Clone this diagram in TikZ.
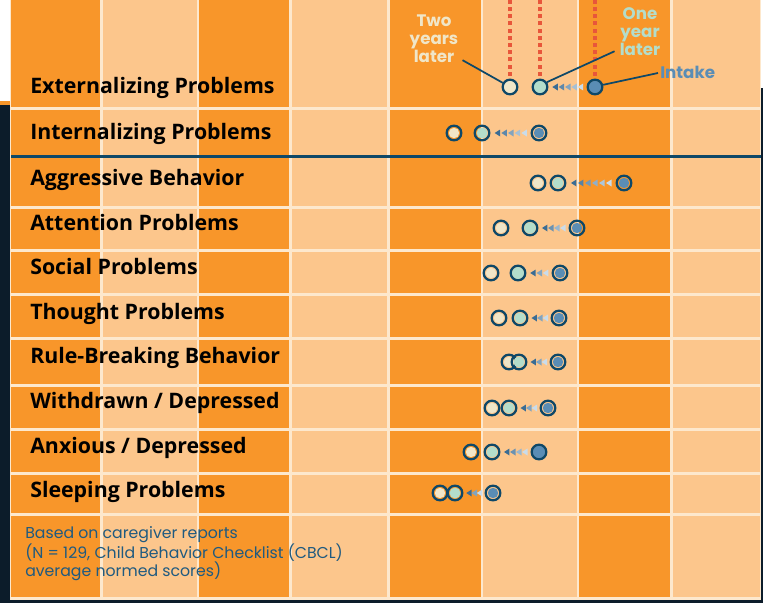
\documentclass[tikz,border=0pt]{standalone}
\usepackage{fontspec}
\setmainfont{Open Sans}
\newfontfamily\gothic{Poppins}
\usetikzlibrary{calc}
\definecolor{dkor}{HTML}{F8962A}
\definecolor{ltor}{HTML}{FCC68C}
\definecolor{sepc}{HTML}{FDE8CD}
\definecolor{navy}{HTML}{0E4868}
\definecolor{bgdark}{HTML}{0C1C2A}
\definecolor{twoc}{HTML}{F0E6C8}
\definecolor{onec}{HTML}{B3DDCB}
\definecolor{intc}{HTML}{5A8DB5}
\definecolor{redd}{HTML}{E8563A}
\definecolor{footc}{HTML}{1F5A80}
\definecolor{trid}{HTML}{3A6C94}
\definecolor{tril}{HTML}{CADCEA}
\begin{document}
\begin{tikzpicture}[x=0.75pt,y=-0.75pt,
  dot/.style n args={2}{circle, draw=navy, line width=1.7pt, minimum size=11pt, inner sep=0pt,
    path picture={\fill[#1] (path picture bounding box.center) circle (#2);}},
  rowlbl/.style={anchor=base west, inner sep=0pt, font=\bfseries\fontsize{16}{18}\selectfont, text=black},
  keylbl/.style={inner sep=0pt, align=center, font=\gothic\bfseries\fontsize{12.5}{13.5}\selectfont},
  leader/.style={draw=navy, line width=1.3pt},
  reddots/.style={draw=redd, line width=2.3pt, dash pattern=on 3pt off 2.4pt},
  sepline/.style={fill=sepc},
]
\useasboundingbox (0,0) rectangle (763,603);
% background
\fill[bgdark] (0,0) rectangle (763,603);
\fill[white] (0,0) rectangle (11,101);
\fill[dkor] (0,101) rectangle (11,105);
\fill[white] (761,0) rectangle (763,88);
% chart
\fill[sepc] (10,0) rectangle (761,600);
\foreach \l/\r in {11/100,199/289,390/481,579/670}
  \fill[dkor] (\l,0) rectangle (\r,597);
\foreach \l/\r in {103/197,292/387,483/577,673/760}
  \fill[ltor] (\l,0) rectangle (\r,597);
\foreach \y in {108,207,250,294,338,385,429,473,514}
  \fill[sepline] (11,\y-1.5) rectangle (761,\y+1.5);
\fill[navy] (11,154.5) rectangle (761,157.5);
\coordinate (top) at (0,0);
% row labels
\node[rowlbl] (l1) at (30,93) {Externalizing Problems};
\node[rowlbl] (l2) at (30,139) {Internalizing Problems};
\node[rowlbl] (l3) at (30,185) {Aggressive Behavior};
\node[rowlbl] (l4) at (30,230) {Attention Problems};
\node[rowlbl] (l5) at (30,274) {Social Problems};
\node[rowlbl] (l6) at (30,319) {Thought Problems};
\node[rowlbl] (l7) at (30,363) {Rule-Breaking Behavior};
\node[rowlbl] (l8) at (30,408) {Withdrawn / Depressed};
\node[rowlbl] (l9) at (30,453) {Anxious / Depressed};
\node[rowlbl] (l10) at (30,497) {Sleeping Problems};
% dots and arrows
\foreach \i/\y/\a/\b/\c/\n/\ra/\rb/\rc in {
  1/87/510/540/595/5/4.7pt/4.7pt/4.7pt,
  2/133/454/482/539/5/3.9pt/4.1pt/3.9pt,
  3/183/538/558/624/6/3.9pt/4.1pt/3.9pt,
  4/228/501/530/577/4/3.9pt/4.3pt/3.9pt,
  5/273/491/518/560/3/3.9pt/4.5pt/3.9pt,
  6/318/499/520/559/3/3.9pt/4.1pt/3.9pt,
  7/362/509/519/558/3/3.9pt/4.1pt/3.9pt,
  8/408/492/509/548/3/3.9pt/4.1pt/3.9pt,
  9/452/471/492/539/4/3.9pt/4.1pt/4.7pt,
  10/493/440/455/493/3/3.9pt/4.1pt/3.9pt}{
  \node[dot={twoc}{\ra}] (r\i a) at (\a,\y) {};
  \node[dot={onec}{\rb}] (r\i b) at (\b,\y) {};
  \node[dot={intc}{\rc}] (r\i c) at (\c,\y) {};
  \foreach \k in {1,...,\n}{
    \pgfmathsetmacro\t{\k/(\n+1)}
    \pgfmathtruncatemacro\p{100-100*(\k-1)/(\n-1)}
    \fill[trid!\p!tril] ($(r\i b.east)!\t!(r\i c.west)$) ++(-2.5,0) -- ++(5.5,-3.5) -- ++(0,7) -- cycle;
  }
}
% dotted verticals
\draw[reddots, shorten <=2pt] (r1a.north) -- (r1a |- top);
\draw[reddots, shorten <=2pt] (r1b.north) -- (r1b |- top);
\draw[reddots, shorten <=2pt] (r1c.north) -- (r1c |- top);
% key labels
\node[keylbl, text=twoc] (twolbl) at (434,39) {Two\\years\\later};
\node[keylbl, text=onec] (onelbl) at (640,32) {One\\year\\later};
\node[keylbl, text=intc, anchor=west] (intlbl) at (660,72) {Intake};
\draw[leader] ($(twolbl.south east)+(4,-3)$) -- (r1a.150);
\draw[leader] ($(onelbl.south west)+(-5,-5)$) -- (r1b.35);
\draw[leader] ($(intlbl.west)+(-2,1)$) -- (r1c.15);
% footnote
\node[anchor=north west, align=left, inner sep=0pt, text=footc,
  font=\gothic\fontsize{11.8}{13.5}\selectfont] (foot) at (25,526)
  {Based on caregiver reports\\(N = 129, Child Behavior Checklist (CBCL)\\average normed scores)};
\end{tikzpicture}
\end{document}
